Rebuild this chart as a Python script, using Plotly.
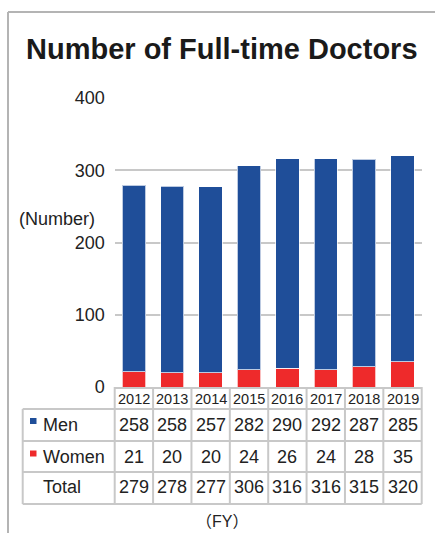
import plotly.graph_objects as go

years = ["2012", "2013", "2014", "2015", "2016", "2017", "2018", "2019"]
men = [258, 258, 257, 282, 290, 292, 287, 285]
women = [21, 20, 20, 24, 26, 24, 28, 35]
total = [279, 278, 277, 306, 316, 316, 315, 320]
row_labels = ["Men", "Women", "Total"]
y_ticks = [0, 100, 200, 300, 400]

W, H = 435, 533
BLUE = "#1f4e99"
RED = "#ee2a2b"
GRID = "#c8c8c8"
TXT = "#222222"
FONT = "Arial, Liberation Sans, sans-serif"


def py(px):
    return 1 - px / H


PL, PR = 114.7, 421.7
fig = go.Figure()
fig.add_trace(go.Bar(x=years, y=women, name="Women",
                     marker=dict(color=RED, line=dict(color="rgba(255,255,255,0.7)", width=1))))
fig.add_trace(go.Bar(x=years, y=men, name="Men",
                     marker=dict(color=BLUE, line=dict(color="rgba(255,255,255,0.7)", width=1))))

fig.update_layout(
    width=W, height=H, barmode="stack", bargap=0.39, showlegend=False,
    margin=dict(l=0, r=0, t=0, b=0, autoexpand=False),
    paper_bgcolor="white", plot_bgcolor="white",
    font=dict(family=FONT, color=TXT),
    xaxis=dict(type="category", domain=[PL / W, PR / W], range=[-0.5, 7.5], showticklabels=False,
               ticks="", showline=True, linecolor=GRID, linewidth=1.5, showgrid=False,
               zeroline=False, automargin=False),
    yaxis=dict(domain=[py(387), py(98)], range=[0, 400], tickvals=y_ticks,
               showgrid=True, gridcolor=GRID, gridwidth=1.5, zeroline=False, ticks="",
               automargin=False, ticklabelstandoff=9, tickfont=dict(size=18, color=TXT)),
)

shapes = []
line = dict(color=GRID, width=2)
# outer frame (left and top)
frame = dict(color="#b4b4b4", width=2)
shapes.append(dict(type="line", xref="paper", yref="paper", x0=8 / W, x1=8 / W, y0=py(12), y1=0, line=frame))
shapes.append(dict(type="line", xref="paper", yref="paper", x0=8 / W, x1=1, y0=py(12), y1=py(12), line=frame))
# table grid
n = len(years)
label_left = (22.7 - PL) / (PR - PL)
row_b = [387, 409, 441, 472, 504]
for i in range(n + 1):
    shapes.append(dict(type="line", xref="x domain", yref="paper", x0=i / n, x1=i / n,
                       y0=py(row_b[0]), y1=py(row_b[-1]), line=line))
shapes.append(dict(type="line", xref="x domain", yref="paper", x0=label_left, x1=label_left,
                   y0=py(row_b[1]), y1=py(row_b[-1]), line=line))
for yb in row_b[1:]:
    shapes.append(dict(type="line", xref="x domain", yref="paper", x0=label_left, x1=1,
                       y0=py(yb), y1=py(yb), line=line))
# legend swatches
for yc, col in [(421, BLUE), (453.5, RED)]:
    shapes.append(dict(type="rect", xref="paper", yref="paper", x0=30 / W, x1=36.5 / W,
                       y0=py(yc - 3), y1=py(yc + 3), fillcolor=col, line=dict(width=0)))
fig.update_layout(shapes=shapes)

ann = []
ann.append(dict(text="<b>Number of Full-time Doctors</b>", xref="paper", yref="paper", x=221.5 / W, y=py(49),
                showarrow=False, font=dict(size=29, color="#1a1a1a"), xanchor="center", yanchor="middle"))
ann.append(dict(text="(Number)", xref="paper", yref="paper", x=57 / W, y=py(219),
                showarrow=False, font=dict(size=18, color=TXT), xanchor="center", yanchor="middle"))
ann.append(dict(text="（FY）", xref="paper", yref="paper", x=222 / W, y=py(521),
                showarrow=False, font=dict(size=16, color=TXT, family="Arial, Noto Sans CJK JP"),
                xanchor="center", yanchor="middle"))
for i, yr in enumerate(years):
    ann.append(dict(text=yr, xref="x", yref="paper", x=i, y=py(398.5), showarrow=False,
                    font=dict(size=14.5, color=TXT), xanchor="center", yanchor="middle"))
rows = [men, women, total]
row_c = [425, 457, 487]
for r, (vals, lab) in enumerate(zip(rows, row_labels)):
    ann.append(dict(text=lab, xref="paper", yref="paper", x=41 / W, y=py(row_c[r]), showarrow=False,
                    font=dict(size=18, color=TXT), xanchor="left", yanchor="middle"))
    for i, v in enumerate(vals):
        ann.append(dict(text=str(v), xref="x", yref="paper", x=i, y=py(row_c[r]), showarrow=False,
                        font=dict(size=18, color=TXT), xanchor="center", yanchor="middle"))
fig.update_layout(annotations=ann)

fig.write_html("out.html", config={"displayModeBar": False},
               post_script="document.body.style.margin='0';")
